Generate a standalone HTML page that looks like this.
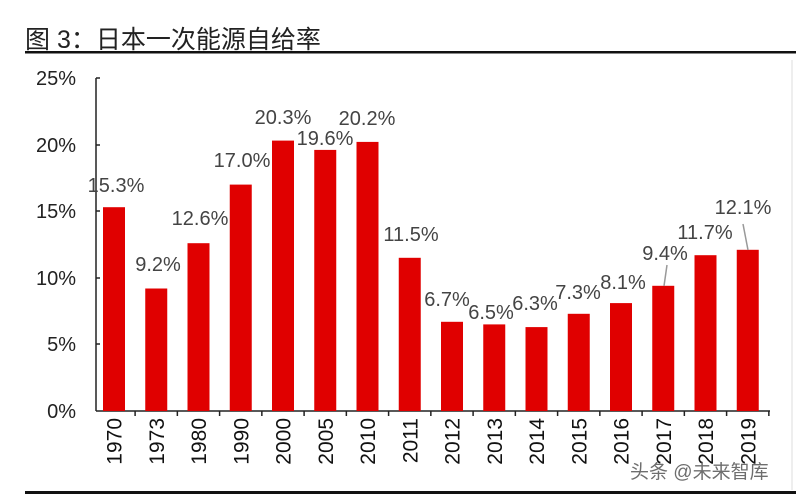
<!DOCTYPE html>
<html><head><meta charset="utf-8"><style>
body{margin:0;background:#fff;}
svg{display:block;font-family:"Liberation Sans","Noto Sans CJK SC",sans-serif;}
</style></head><body>
<svg width="796" height="495" viewBox="0 0 796 495">
<text x="25" y="48" font-size="25" fill="#222">图 3：日本一次能源自给率</text>
<rect x="25" y="51" width="771" height="2.5" fill="#111"/>
<line x1="792" y1="60" x2="792" y2="490" stroke="#ddd" stroke-width="1"/>
<rect x="25" y="491" width="771" height="3" fill="#111"/>
<g font-size="20" fill="#222" text-anchor="end">
<text x="76" y="85">25%</text><text x="76" y="152">20%</text><text x="76" y="218">15%</text>
<text x="76" y="285">10%</text><text x="76" y="351">5%</text><text x="76" y="418">0%</text>
</g>
<g stroke="#222" stroke-width="1.5" fill="none">
<line x1="96" y1="78" x2="96" y2="411"/>
<line x1="96" y1="78" x2="100" y2="78"/><line x1="96" y1="145" x2="100" y2="145"/>
<line x1="96" y1="211" x2="100" y2="211"/><line x1="96" y1="278" x2="100" y2="278"/>
<line x1="96" y1="344" x2="100" y2="344"/>
<line x1="96" y1="411" x2="770" y2="411"/>
<line x1="135.1" y1="411" x2="135.1" y2="416"/><line x1="177.35" y1="411" x2="177.35" y2="416"/>
<line x1="219.6" y1="411" x2="219.6" y2="416"/><line x1="261.85" y1="411" x2="261.85" y2="416"/>
<line x1="304.1" y1="411" x2="304.1" y2="416"/><line x1="346.35" y1="411" x2="346.35" y2="416"/>
<line x1="388.6" y1="411" x2="388.6" y2="416"/><line x1="430.85" y1="411" x2="430.85" y2="416"/>
<line x1="473.1" y1="411" x2="473.1" y2="416"/><line x1="515.35" y1="411" x2="515.35" y2="416"/>
<line x1="557.6" y1="411" x2="557.6" y2="416"/><line x1="599.85" y1="411" x2="599.85" y2="416"/>
<line x1="642.1" y1="411" x2="642.1" y2="416"/><line x1="684.35" y1="411" x2="684.35" y2="416"/>
<line x1="726.6" y1="411" x2="726.6" y2="416"/><line x1="768.85" y1="411" x2="768.85" y2="416"/>
</g>
<g fill="#e00000">
<rect x="103" y="207.2" width="22" height="203.8"/>
<rect x="145.25" y="288.5" width="22" height="122.5"/>
<rect x="187.5" y="243.2" width="22" height="167.8"/>
<rect x="229.75" y="184.6" width="22" height="226.4"/>
<rect x="272" y="140.6" width="22" height="270.4"/>
<rect x="314.25" y="149.9" width="22" height="261.1"/>
<rect x="356.5" y="141.9" width="22" height="269.1"/>
<rect x="398.75" y="257.8" width="22" height="153.2"/>
<rect x="441" y="321.8" width="22" height="89.2"/>
<rect x="483.25" y="324.4" width="22" height="86.6"/>
<rect x="525.5" y="327.1" width="22" height="83.9"/>
<rect x="567.75" y="313.8" width="22" height="97.2"/>
<rect x="610" y="303.1" width="22" height="107.9"/>
<rect x="652.25" y="285.8" width="22" height="125.2"/>
<rect x="694.5" y="255.2" width="22" height="155.8"/>
<rect x="736.75" y="249.8" width="22" height="161.2"/>
</g>
<g font-size="20" fill="#444" text-anchor="middle">
<text x="116" y="192">15.3%</text><text x="158" y="271">9.2%</text><text x="200" y="225">12.6%</text>
<text x="242" y="167">17.0%</text><text x="283" y="124">20.3%</text><text x="325" y="145">19.6%</text>
<text x="367" y="125">20.2%</text><text x="411" y="241">11.5%</text><text x="447" y="306">6.7%</text>
<text x="491" y="319">6.5%</text><text x="535" y="310">6.3%</text><text x="578" y="299">7.3%</text>
<text x="623" y="289">8.1%</text><text x="665" y="260">9.4%</text><text x="705" y="239">11.7%</text>
<text x="743" y="214">12.1%</text>
</g>
<line x1="667" y1="265" x2="664" y2="286" stroke="#999" stroke-width="1.5"/>
<line x1="743" y1="224" x2="748" y2="250" stroke="#999" stroke-width="1.5"/>
<g font-size="21" fill="#111" text-anchor="end">
<text transform="translate(121.5,418) rotate(-90)">1970</text>
<text transform="translate(163.75,418) rotate(-90)">1973</text>
<text transform="translate(206,418) rotate(-90)">1980</text>
<text transform="translate(248.25,418) rotate(-90)">1990</text>
<text transform="translate(290.5,418) rotate(-90)">2000</text>
<text transform="translate(332.75,418) rotate(-90)">2005</text>
<text transform="translate(375,418) rotate(-90)">2010</text>
<text transform="translate(417.25,418) rotate(-90)">2011</text>
<text transform="translate(459.5,418) rotate(-90)">2012</text>
<text transform="translate(501.75,418) rotate(-90)">2013</text>
<text transform="translate(544,418) rotate(-90)">2014</text>
<text transform="translate(586.25,418) rotate(-90)">2015</text>
<text transform="translate(628.5,418) rotate(-90)">2016</text>
<text transform="translate(670.75,418) rotate(-90)">2017</text>
<text transform="translate(713,418) rotate(-90)">2018</text>
<text transform="translate(755.25,418) rotate(-90)">2019</text>
</g>
<text x="630" y="478" font-size="19" fill="#555" opacity="0.85">头条 @未来智库</text>
</svg>
</body></html>
